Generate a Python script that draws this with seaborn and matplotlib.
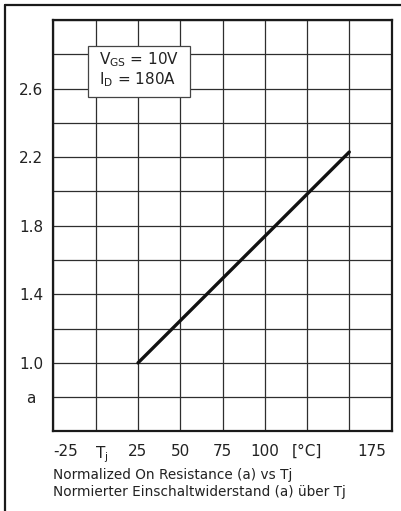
import matplotlib
matplotlib.use('Agg')
import pandas as pd
import matplotlib.pyplot as plt
import seaborn as sns
from matplotlib.patches import Rectangle
from matplotlib.lines import Line2D
from matplotlib.transforms import ScaledTranslation

# ── data ─────────────────────────────────────
temp_c = [25, 150]          # junction temperature Tj [°C]
r_norm = [1.0, 2.23]        # normalized on resistance (a)

x_ticks = [-25, 0, 25, 50, 75, 100, 125, 150, 175]
x_labels = ['-25', r'$\mathregular{T_j}$', '25', '50', '75', '100', '[°C]', '', '175']
y_ticks = [0.6, 0.8, 1.0, 1.2, 1.4, 1.6, 1.8, 2.0, 2.2, 2.4, 2.6, 2.8, 3.0]
y_labels = ['', 'a', '1.0', '', '1.4', '', '1.8', '', '2.2', '', '2.6', '', '']

cond_lines = [r'$\mathregular{V_{GS}}$ = 10V', r'$\mathregular{I_D}$ = 180A']
caption = ['Normalized On Resistance (a) vs Tj',
           'Normierter Einschaltwiderstand (a) über Tj']

sns.set_style('white')
plt.rcParams['font.family'] = ['DejaVu Sans']
plt.rcParams['mathtext.fontset'] = 'dejavusans'

fig = plt.figure(figsize=(4.02, 5.11), dpi=100)
ax = fig.add_axes([0.133, 0.1556, 0.841, 0.8053])

df = pd.DataFrame({'Tj': temp_c, 'a': r_norm})
sns.lineplot(data=df, x='Tj', y='a', ax=ax, color='#111111',
             linewidth=2.4, zorder=5)

ax.set_xlim(-25, 175)
ax.set_ylim(0.6, 3.0)
ax.set_xticks(x_ticks)
ax.set_xticklabels(x_labels)
ax.set_yticks(y_ticks)
ax.set_yticklabels(y_labels)
ax.set_xlabel('')
ax.set_ylabel('')
ax.grid(True, color='#2e2e2e', linewidth=0.9)
ax.set_axisbelow(True)
ax.tick_params(length=0, labelsize=11, colors='#222222')
ax.tick_params(axis='x', pad=9)
ax.tick_params(axis='y', pad=16)
for sp in ax.spines.values():
    sp.set_visible(True)
    sp.set_color('#1a1a1a')
    sp.set_linewidth(1.6)

for lbl in ax.get_yticklabels():
    lbl.set_horizontalalignment('center')
xl = ax.get_xticklabels()
xl[0].set_horizontalalignment('left')
xl[1].set_transform(xl[1].get_transform() + ScaledTranslation(6/100, 0, fig.dpi_scale_trans))
xl[-1].set_horizontalalignment('right')
xl[-1].set_transform(xl[-1].get_transform() + ScaledTranslation(-5/100, 0, fig.dpi_scale_trans))

# conditions box
ax.add_patch(Rectangle((0.101, 0.812), 0.303, 0.125, transform=ax.transAxes,
                       facecolor='white', edgecolor='#444444', linewidth=0.9, zorder=6))
ax.text(0.253, 0.903, cond_lines[0], transform=ax.transAxes, ha='center', va='center',
        fontsize=11, color='#222222', zorder=7)
ax.text(0.248, 0.854, cond_lines[1], transform=ax.transAxes, ha='center', va='center',
        fontsize=11, color='#222222', zorder=7)

# caption
fig.text(0.132, 0.0705, caption[0], ha='left', va='center', fontsize=9.8, color='#222222')
fig.text(0.132, 0.0372, caption[1], ha='left', va='center', fontsize=9.8, color='#222222')

# outer frame (left and top only)
fig.add_artist(Line2D([0.0112, 0.0112], [0.0, 0.990], transform=fig.transFigure,
                      color='#1a1a1a', linewidth=1.6))
fig.add_artist(Line2D([0.0112, 1.0], [0.990, 0.990], transform=fig.transFigure,
                      color='#1a1a1a', linewidth=1.6))

fig.savefig('out.png', dpi=100)
